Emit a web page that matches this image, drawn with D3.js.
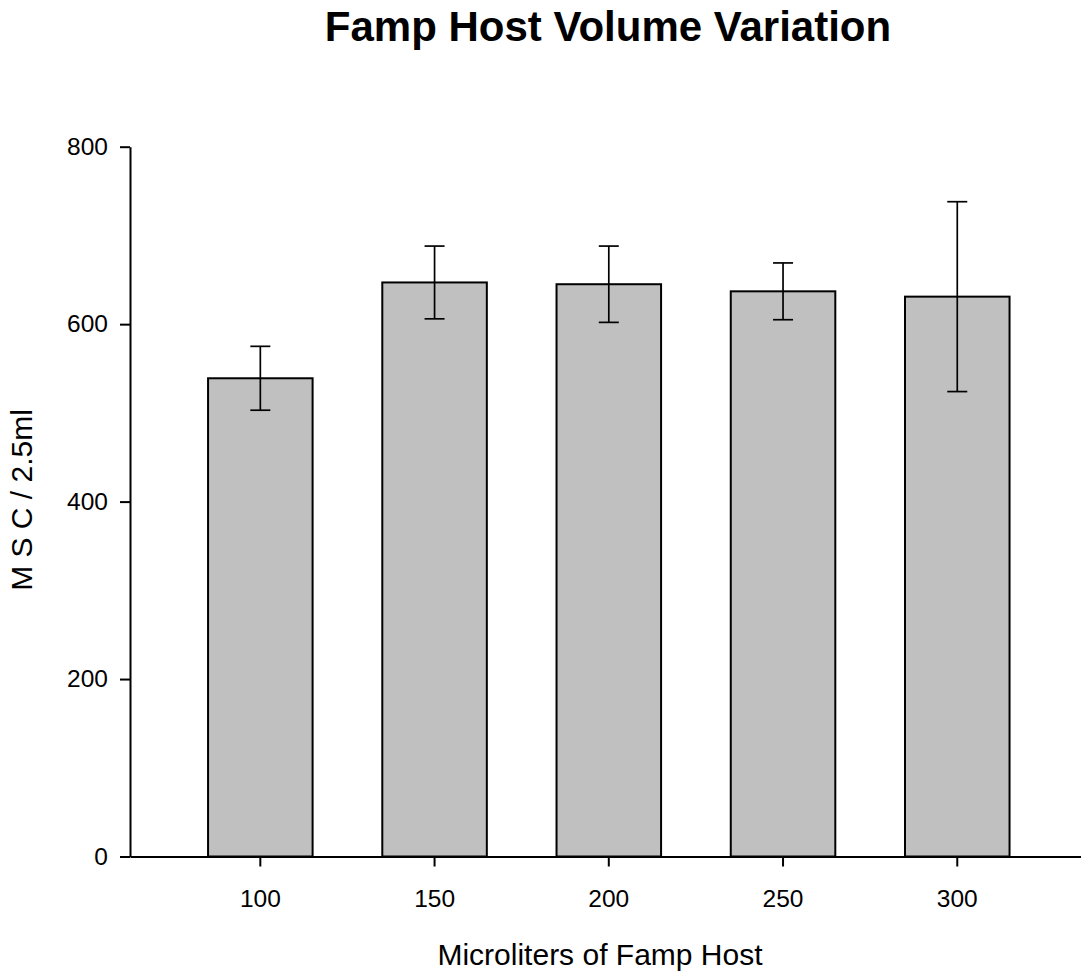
<!DOCTYPE html>
<html>
<head>
<meta charset="utf-8">
<script src="https://cdn.jsdelivr.net/npm/d3@7"></script>
<style>
  body { margin: 0; background: #fff; }
  text { font-family: "Liberation Sans", Arial, sans-serif; fill: #000; }
  .axis path, .axis line { stroke: #000; stroke-width: 2; }
  .axis text { font-size: 24.5px; }
</style>
</head>
<body>
<div id="chart"></div>
<script>
// DATA
const volumes = ["100", "150", "200", "250", "300"];
const meanMSC = [539, 647, 645, 637, 631];
const errMSC = [36, 41, 43, 32, 107];
const yTicks = [0, 200, 400, 600, 800];

const data = volumes.map((v, i) => ({ vol: v, mean: meanMSC[i], err: errMSC[i] }));

// SIZES
const W = 1081, H = 973;
const svg = d3.select("#chart").append("svg")
    .attr("width", W)
    .attr("height", H);

// SCALES
const x = d3.scaleBand()
    .domain(volumes)
    .range([130, 1087.6])
    .paddingInner(0.4)
    .paddingOuter(0.448);

const y = d3.scaleLinear()
    .domain([0, 800])
    .range([856.5, 146.7]);

// BARS
svg.append("g").selectAll("rect")
    .data(data)
    .join("rect")
    .attr("x", d => x(d.vol))
    .attr("y", d => y(d.mean))
    .attr("width", x.bandwidth())
    .attr("height", d => y(0) - y(d.mean))
    .attr("fill", "#c0c0c0")
    .attr("stroke", "#000")
    .attr("stroke-width", 2);

// ERROR BARS
const cap = 10;
const eb = svg.append("g").attr("stroke", "#000").attr("stroke-width", 1.7);
data.forEach(d => {
    const cx = x(d.vol) + x.bandwidth() / 2;
    eb.append("line")
        .attr("x1", cx).attr("x2", cx)
        .attr("y1", y(d.mean + d.err)).attr("y2", y(d.mean - d.err));
    eb.append("line")
        .attr("x1", cx - cap).attr("x2", cx + cap)
        .attr("y1", y(d.mean + d.err)).attr("y2", y(d.mean + d.err));
    eb.append("line")
        .attr("x1", cx - cap).attr("x2", cx + cap)
        .attr("y1", y(d.mean - d.err)).attr("y2", y(d.mean - d.err));
});

// AXES
svg.append("g")
    .attr("class", "axis")
    .attr("transform", `translate(0,${y(0)})`)
    .call(d3.axisBottom(x).tickSize(10).tickSizeOuter(0).tickPadding(23));

svg.append("g")
    .attr("class", "axis")
    .attr("transform", "translate(130,0)")
    .call(d3.axisLeft(y).tickValues(yTicks).tickSize(10).tickSizeOuter(0).tickPadding(12));

// LABELS
svg.append("text")
    .attr("x", 608)
    .attr("y", 41)
    .attr("text-anchor", "middle")
    .style("font-size", "42px")
    .style("font-weight", "bold")
    .text("Famp Host Volume Variation");

svg.append("text")
    .attr("x", 600)
    .attr("y", 965)
    .attr("text-anchor", "middle")
    .style("font-size", "30px")
    .text("Microliters of Famp Host");

svg.append("text")
    .attr("transform", "translate(32,500) rotate(-90)")
    .attr("text-anchor", "middle")
    .style("font-size", "30px")
    .text("M S C / 2.5ml");
</script>
</body>
</html>
